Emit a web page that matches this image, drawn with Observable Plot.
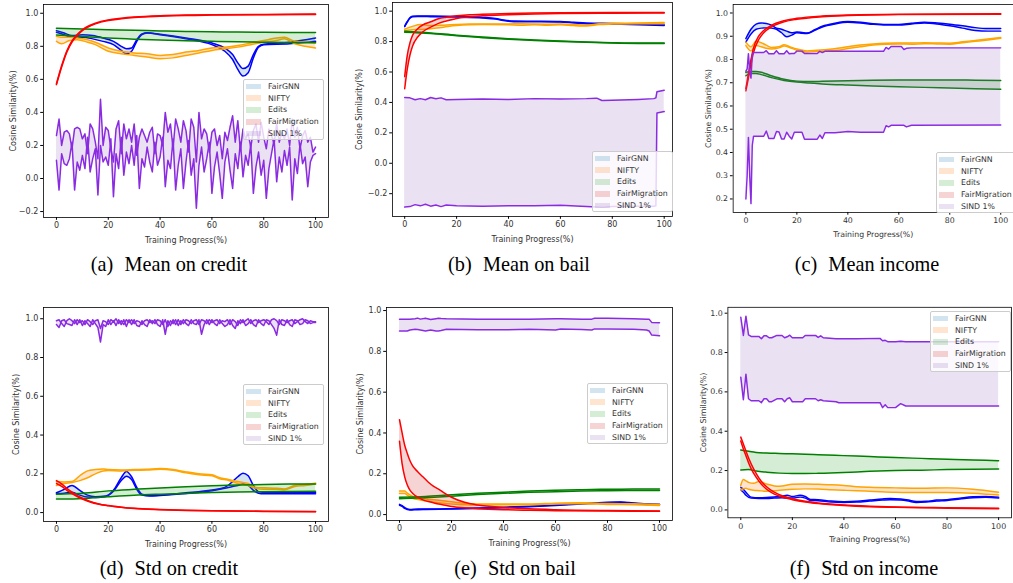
<!DOCTYPE html>
<html><head><meta charset="utf-8">
<script src="https://cdn.jsdelivr.net/npm/d3@7"></script>
<script src="https://cdn.jsdelivr.net/npm/@observablehq/plot@0.6"></script>
<style>
html,body{margin:0;padding:0;background:#fff;overflow:hidden}
#fig{position:relative;width:1013px;height:583px;overflow:hidden;background:#fff}
.panel{position:absolute}
.panel svg{overflow:visible}
.legend{position:absolute;width:81px;height:61px;box-sizing:border-box;background:rgba(255,255,255,0.8);border:1px solid #cccccc;border-radius:2px;padding-top:0.5px;font-family:"DejaVu Sans";font-size:7.8px;color:#333}
.legend .row{height:11.8px;display:flex;align-items:center}
.legend .patch{width:15px;height:5.5px;margin-left:2px}
.legend .lab{margin-left:7px;white-space:nowrap}
.caption{position:absolute;font-family:"Liberation Serif";font-size:20.3px;color:#000;white-space:nowrap;transform:translate(-50%,-50%)}
.caption .t{margin-left:0.55em}
</style></head>
<body><div id="fig"></div>
<script>
// ---------------- data ----------------
const methods = ["FairGNN", "NIFTY", "Edits", "FairMigration", "SIND 1%"];
const xTicks = [0, 20, 40, 60, 80, 100];
const yTicksWide = [-0.2, 0, 0.2, 0.4, 0.6, 0.8, 1.0];
const yTicksIncome = [0.2, 0.3, 0.4, 0.5, 0.6, 0.7, 0.8, 0.9, 1.0];
const yTicksStd = [0, 0.2, 0.4, 0.6, 0.8, 1.0];

// [progress, lower line, upper line]
const creditMean_FairGNN = [[0,0.885,0.895],[3,0.87,0.88],[6,0.855,0.865],[10,0.855,0.87],[14,0.845,0.865],[18,0.83,0.85],[22,0.81,0.83],[25,0.775,0.80],[27,0.755,0.785],[29,0.77,0.79],[31,0.83,0.84],[33,0.87,0.875],[35,0.88,0.882],[40,0.87,0.873],[50,0.845,0.85],[60,0.81,0.82],[65,0.77,0.79],[68,0.72,0.75],[70,0.66,0.70],[72,0.62,0.665],[74,0.64,0.68],[76,0.73,0.75],[78,0.795,0.80],[80,0.81,0.812],[90,0.815,0.825],[100,0.83,0.85]];
const creditMean_NIFTY = [[0,0.83,0.86],[2,0.815,0.855],[5,0.835,0.855],[8,0.84,0.85],[12,0.825,0.84],[15,0.81,0.825],[20,0.77,0.79],[25,0.755,0.77],[30,0.745,0.76],[35,0.735,0.755],[40,0.725,0.745],[45,0.73,0.75],[50,0.745,0.765],[55,0.76,0.775],[60,0.775,0.79],[65,0.785,0.795],[70,0.795,0.805],[75,0.81,0.82],[80,0.825,0.835],[85,0.835,0.85],[88,0.845,0.855],[92,0.815,0.83],[96,0.80,0.825],[100,0.79,0.82]];
const creditMean_Edits = [[0,0.868,0.91],[10,0.86,0.905],[20,0.85,0.90],[30,0.843,0.897],[40,0.838,0.893],[50,0.834,0.89],[60,0.83,0.888],[70,0.827,0.886],[80,0.825,0.885],[90,0.823,0.884],[100,0.822,0.883]];
const creditMean_FairMigration = [[0,0.568,0.573],[2,0.675,0.682],[4,0.765,0.772],[6,0.825,0.832],[8,0.865,0.871],[10,0.895,0.9],[12,0.915,0.92],[15,0.936,0.94],[20,0.956,0.96],[25,0.966,0.97],[30,0.974,0.977],[40,0.982,0.985],[50,0.987,0.989],[60,0.989,0.991],[80,0.991,0.993],[100,0.993,0.995]];
const steps = [0,1,2,3,4,5,6,7,8,9,10,11,12,13,14,15,16,17,18,19,20,21,22,23,24,25,26,27,28,29,30,31,32,33,34,35,36,37,38,39,40,41,42,43,44,45,46,47,48,49,50,51,52,53,54,55,56,57,58,59,60,61,62,63,64,65,66,67,68,69,70,71,72,73,74,75,76,77,78,79,80,81,82,83,84,85,86,87,88,89,90,91,92,93,94,95,96,97,98,99,100];
const creditMean_SIND_a = [0.26,0.36,0.20,0.28,0.29,0.27,0.18,0.30,0.31,0.30,0.24,0.27,0.15,0.33,0.30,0.22,0.12,0.48,0.20,0.31,0.29,0.18,0.10,0.30,0.35,0.15,0.33,0.24,0.30,0.22,0.33,0.14,0.25,0.30,0.26,0.22,0.28,0.31,0.15,0.27,0.26,0.20,0.40,0.28,0.33,0.18,0.36,0.30,0.22,0.35,0.29,0.16,0.36,0.31,0.10,0.40,0.24,0.30,0.27,0.16,0.28,0.30,0.20,0.26,0.12,0.28,0.23,0.31,0.38,0.22,0.35,0.17,0.30,0.24,0.27,0.19,0.29,0.33,0.22,0.34,0.25,0.18,0.30,0.26,0.21,0.33,0.22,0.28,0.24,0.30,0.20,0.36,0.25,0.31,0.18,0.26,0.29,0.22,0.25,0.16,0.19];
const creditMean_SIND_b = [0.11,-0.07,0.15,0.09,0.08,0.12,0.22,-0.07,0.10,0.05,0.14,0.06,0.25,0.04,0.12,0.18,-0.10,0.20,0.10,0.13,0.08,0.24,-0.11,0.15,0.06,0.25,0.02,0.16,0.09,0.20,0.08,0.26,-0.06,0.12,0.07,0.19,0.10,0.04,0.22,0.08,0.13,0.25,-0.05,0.11,0.06,0.24,-0.07,0.08,0.18,-0.06,0.10,0.23,0.02,0.12,-0.18,0.08,0.19,0.04,0.12,0.22,-0.09,0.07,0.16,0.03,-0.12,0.10,0.18,0.05,-0.06,0.15,0.06,0.22,0.01,0.14,0.08,0.21,-0.09,0.07,0.16,0.02,0.11,-0.12,0.06,0.15,0.24,-0.02,0.13,0.04,0.17,0.08,0.19,-0.13,0.12,0.03,0.21,0.09,0.13,-0.05,0.10,0.14,0.15];

const bailMean_FairGNN = [[0,0.898,0.902],[1,0.928,0.932],[2,0.953,0.957],[3,0.963,0.967],[5,0.965,0.969],[10,0.964,0.968],[20,0.961,0.965],[30,0.955,0.959],[35,0.948,0.952],[38,0.938,0.942],[42,0.931,0.935],[50,0.93,0.934],[60,0.928,0.932],[65,0.923,0.927],[70,0.918,0.922],[80,0.915,0.919],[90,0.911,0.915],[100,0.906,0.91]];
const bailMean_NIFTY = [[0,0.873,0.882],[3,0.878,0.90],[6,0.88,0.912],[10,0.885,0.905],[15,0.895,0.908],[20,0.905,0.912],[25,0.91,0.915],[30,0.912,0.916],[40,0.91,0.916],[45,0.907,0.917],[50,0.911,0.915],[55,0.908,0.914],[60,0.91,0.915],[65,0.905,0.912],[70,0.902,0.908],[75,0.912,0.917],[80,0.915,0.92],[90,0.918,0.922],[100,0.918,0.926]];
const bailMean_Edits = [[0,0.862,0.868],[10,0.853,0.857],[20,0.838,0.842],[30,0.826,0.83],[40,0.815,0.819],[50,0.807,0.811],[60,0.800,0.804],[70,0.795,0.798],[80,0.79,0.793],[90,0.788,0.79],[100,0.788,0.79]];
const bailMean_FairMigration = [[0,0.49,0.57],[1,0.62,0.71],[2,0.71,0.79],[3,0.77,0.84],[5,0.83,0.885],[7,0.865,0.91],[10,0.895,0.93],[13,0.92,0.95],[16,0.935,0.96],[20,0.952,0.97],[25,0.962,0.976],[30,0.97,0.98],[40,0.977,0.985],[50,0.982,0.988],[60,0.985,0.99],[80,0.987,0.991],[100,0.988,0.991]];
const bailMean_SIND = [[0,-0.288,0.432],[2,-0.285,0.43],[4,-0.272,0.418],[6,-0.28,0.425],[8,-0.27,0.418],[10,-0.282,0.432],[12,-0.275,0.424],[14,-0.285,0.43],[16,-0.275,0.418],[20,-0.28,0.42],[30,-0.282,0.422],[40,-0.28,0.42],[50,-0.28,0.425],[60,-0.276,0.422],[70,-0.285,0.425],[74,-0.288,0.428],[76,-0.29,0.413],[80,-0.285,0.415],[90,-0.283,0.42],[96,-0.283,0.425],[96.8,-0.28,0.43],[97.2,0.33,0.47],[100,0.34,0.48]];

const incomeMean_FairGNN = [[0,0.875,0.89],[2,0.91,0.93],[4,0.93,0.952],[6,0.935,0.957],[8,0.936,0.955],[10,0.935,0.948],[12,0.93,0.935],[14,0.915,0.93],[16,0.898,0.922],[18,0.905,0.915],[20,0.915,0.918],[22,0.913,0.916],[24,0.912,0.914],[27,0.925,0.928],[30,0.94,0.943],[35,0.953,0.956],[40,0.96,0.963],[45,0.957,0.96],[50,0.951,0.954],[55,0.948,0.951],[60,0.948,0.951],[65,0.953,0.956],[70,0.957,0.96],[75,0.953,0.957],[80,0.945,0.952],[85,0.935,0.945],[90,0.925,0.937],[95,0.922,0.933],[100,0.922,0.933]];
const incomeMean_NIFTY = [[0,0.86,0.875],[2,0.837,0.855],[4,0.86,0.878],[6,0.855,0.872],[8,0.848,0.862],[10,0.845,0.852],[13,0.85,0.855],[15,0.858,0.863],[18,0.848,0.852],[20,0.84,0.845],[24,0.832,0.837],[28,0.835,0.84],[32,0.838,0.843],[36,0.84,0.848],[40,0.847,0.855],[45,0.855,0.862],[50,0.862,0.867],[55,0.866,0.87],[60,0.867,0.871],[65,0.866,0.871],[70,0.868,0.872],[75,0.867,0.871],[80,0.866,0.87],[85,0.872,0.876],[90,0.878,0.882],[95,0.884,0.888],[100,0.891,0.895]];
const incomeMean_Edits = [[0,0.73,0.745],[2,0.74,0.748],[4,0.74,0.748],[6,0.735,0.745],[10,0.722,0.73],[15,0.71,0.715],[20,0.703,0.707],[25,0.699,0.705],[30,0.695,0.706],[40,0.69,0.709],[50,0.686,0.711],[60,0.683,0.712],[70,0.68,0.712],[80,0.677,0.712],[90,0.674,0.711],[100,0.672,0.71]];
const incomeMean_FairMigration = [[0,0.665,0.675],[1,0.72,0.74],[2,0.78,0.80],[3,0.83,0.85],[5,0.885,0.90],[7,0.915,0.925],[10,0.94,0.947],[15,0.962,0.967],[20,0.973,0.977],[30,0.984,0.987],[40,0.989,0.991],[60,0.993,0.995],[100,0.995,0.997]];
const incomeMean_SIND = [[0,0.2,0.75],[0.5,0.3,0.76],[1,0.465,0.825],[1.5,0.3,0.75],[2,0.18,0.72],[2.5,0.43,0.82],[3,0.47,0.83],[7,0.47,0.83],[8,0.492,0.838],[9,0.46,0.825],[11,0.46,0.825],[12,0.49,0.838],[13,0.488,0.825],[14,0.458,0.825],[15,0.458,0.825],[16,0.487,0.838],[17,0.47,0.825],[18,0.458,0.826],[19,0.487,0.826],[20,0.487,0.836],[22,0.487,0.836],[23,0.457,0.826],[24,0.457,0.826],[28,0.457,0.826],[29,0.475,0.835],[30,0.46,0.83],[31,0.485,0.835],[35,0.485,0.835],[40,0.49,0.835],[45,0.487,0.835],[54,0.487,0.835],[55,0.515,0.852],[56,0.51,0.845],[57,0.517,0.856],[61,0.517,0.856],[62,0.517,0.843],[63,0.51,0.848],[65,0.517,0.85],[100,0.518,0.85]];

const creditStd_FairGNN = [[0,0.098,0.102],[3,0.1,0.12],[6,0.105,0.14],[9,0.09,0.115],[12,0.08,0.09],[15,0.078,0.082],[19,0.083,0.085],[22,0.11,0.115],[25,0.165,0.18],[27,0.188,0.212],[29,0.17,0.185],[31,0.12,0.13],[33,0.09,0.095],[36,0.085,0.088],[40,0.088,0.09],[50,0.098,0.102],[60,0.112,0.117],[65,0.125,0.13],[68,0.135,0.16],[70,0.14,0.185],[72,0.148,0.203],[74,0.14,0.19],[76,0.115,0.14],[78,0.1,0.108],[80,0.097,0.104],[90,0.097,0.104],[100,0.097,0.104]];
const creditStd_NIFTY = [[0,0.14,0.16],[3,0.15,0.158],[6,0.155,0.16],[9,0.165,0.19],[12,0.18,0.215],[15,0.2,0.222],[18,0.215,0.225],[20,0.217,0.222],[25,0.215,0.22],[30,0.218,0.222],[35,0.22,0.224],[40,0.223,0.227],[45,0.218,0.222],[50,0.205,0.21],[55,0.195,0.2],[60,0.19,0.195],[63,0.175,0.18],[66,0.168,0.172],[70,0.15,0.16],[74,0.14,0.15],[77,0.125,0.13],[80,0.12,0.128],[85,0.12,0.125],[88,0.118,0.122],[92,0.135,0.14],[96,0.14,0.145],[100,0.148,0.152]];
const creditStd_Edits = [[0,0.07,0.095],[5,0.07,0.097],[10,0.073,0.10],[20,0.082,0.112],[30,0.09,0.12],[40,0.095,0.127],[50,0.099,0.133],[60,0.103,0.138],[70,0.106,0.142],[80,0.108,0.145],[90,0.109,0.147],[100,0.11,0.148]];
const creditStd_FairMigration = [[0,0.15,0.165],[2,0.135,0.148],[4,0.115,0.125],[6,0.098,0.105],[8,0.083,0.088],[10,0.07,0.074],[13,0.055,0.058],[16,0.044,0.046],[20,0.035,0.036],[25,0.027,0.028],[30,0.021,0.022],[40,0.015,0.016],[50,0.011,0.012],[60,0.009,0.01],[80,0.006,0.007],[100,0.004,0.005]];
const creditStd_SIND_a = [0.99,0.995,0.975,0.96,0.99,1.0,0.99,0.975,0.995,0.98,0.99,0.97,0.995,0.985,0.97,0.99,0.995,0.95,0.99,0.985,0.97,0.995,0.985,1.0,0.975,0.99,0.97,0.995,0.98,0.995,0.975,0.99,0.985,0.97,0.99,0.995,0.98,0.99,0.975,0.995,0.99,0.97,0.995,0.96,0.99,0.975,0.995,0.965,0.99,0.975,0.995,0.99,0.975,0.99,0.995,0.97,0.995,0.99,0.975,0.995,0.98,0.99,0.995,0.975,0.99,0.985,0.995,0.97,0.995,0.985,0.965,0.995,0.98,0.99,1.0,0.975,0.99,0.995,0.98,0.99,0.995,0.985,0.97,0.995,1.0,0.99,0.97,0.995,0.99,0.98,0.99,0.995,0.975,0.985,0.995,1.0,0.985,0.975,0.99,0.985,0.985];
const creditStd_SIND_b = [0.97,0.955,0.99,0.995,0.975,0.97,0.965,0.995,0.97,0.995,0.965,0.99,0.975,0.96,0.995,0.975,0.955,0.88,0.97,0.96,0.995,0.97,0.99,0.965,0.995,0.97,0.995,0.96,0.995,0.97,0.995,0.965,0.96,0.99,0.97,0.96,0.995,0.975,0.995,0.97,0.96,0.995,0.92,0.99,0.965,0.995,0.97,0.995,0.97,0.995,0.975,0.965,0.995,0.975,0.97,0.995,0.92,0.97,0.995,0.97,0.995,0.975,0.965,0.995,0.975,0.96,0.97,0.995,0.965,0.95,0.99,0.975,0.995,0.965,0.975,0.995,0.97,0.96,0.995,0.975,0.965,0.995,0.99,0.97,0.95,0.915,0.995,0.97,0.965,0.995,0.97,0.96,0.995,0.99,0.97,0.975,0.995,0.99,0.975,0.98,0.98];

const bailStd_FairGNN = [[0,0.046,0.05],[1,0.04,0.044],[2,0.03,0.034],[4,0.022,0.025],[7,0.024,0.027],[10,0.025,0.027],[20,0.027,0.029],[30,0.03,0.032],[40,0.034,0.036],[50,0.039,0.041],[60,0.045,0.047],[70,0.052,0.054],[80,0.058,0.06],[85,0.06,0.062],[90,0.055,0.057],[95,0.05,0.053],[100,0.048,0.051]];
const bailStd_NIFTY = [[0,0.103,0.115],[2,0.103,0.115],[3,0.095,0.105],[5,0.08,0.09],[8,0.072,0.08],[10,0.068,0.076],[15,0.058,0.07],[20,0.052,0.063],[25,0.048,0.055],[30,0.047,0.052],[40,0.048,0.052],[50,0.048,0.052],[60,0.052,0.056],[70,0.053,0.058],[80,0.05,0.054],[90,0.048,0.053],[100,0.045,0.05]];
const bailStd_Edits = [[0,0.078,0.085],[10,0.083,0.089],[20,0.09,0.097],[30,0.098,0.104],[40,0.104,0.11],[50,0.109,0.115],[60,0.112,0.119],[70,0.115,0.122],[80,0.117,0.124],[90,0.118,0.125],[100,0.118,0.126]];
const bailStd_FairMigration = [[0,0.36,0.465],[1,0.25,0.40],[2,0.185,0.34],[3,0.145,0.30],[4,0.12,0.265],[5,0.105,0.24],[7,0.085,0.21],[9,0.072,0.185],[11,0.064,0.16],[13,0.058,0.14],[15,0.052,0.125],[17,0.047,0.108],[20,0.04,0.085],[25,0.033,0.06],[30,0.029,0.047],[40,0.024,0.035],[50,0.021,0.028],[60,0.019,0.024],[80,0.017,0.02],[100,0.016,0.018]];
const bailStd_SIND = [[0,0.9,0.958],[3,0.9,0.958],[4,0.905,0.958],[6,0.908,0.96],[7,0.907,0.963],[8,0.905,0.958],[10,0.9,0.962],[12,0.905,0.956],[14,0.9,0.96],[15,0.9,0.962],[16,0.902,0.961],[18,0.908,0.96],[30,0.906,0.958],[40,0.906,0.958],[50,0.908,0.958],[60,0.905,0.96],[62,0.91,0.96],[70,0.907,0.958],[74,0.905,0.958],[75,0.91,0.962],[80,0.91,0.962],[90,0.908,0.96],[95,0.905,0.958],[96,0.9,0.958],[97,0.88,0.942],[100,0.876,0.94]];

const incomeStd_FairGNN = [[0,0.1,0.115],[1,0.09,0.105],[2,0.075,0.09],[4,0.06,0.065],[7,0.058,0.062],[10,0.058,0.063],[13,0.06,0.066],[16,0.062,0.07],[18,0.06,0.075],[20,0.06,0.068],[23,0.065,0.075],[25,0.06,0.068],[27,0.048,0.053],[30,0.047,0.052],[35,0.04,0.045],[40,0.038,0.042],[45,0.04,0.044],[50,0.045,0.05],[55,0.05,0.056],[58,0.052,0.058],[62,0.05,0.055],[65,0.045,0.05],[68,0.038,0.043],[72,0.04,0.044],[76,0.045,0.05],[80,0.048,0.052],[85,0.055,0.06],[90,0.062,0.067],[95,0.064,0.068],[100,0.06,0.065]];
const incomeStd_NIFTY = [[0,0.1,0.125],[1,0.108,0.155],[2,0.11,0.148],[3,0.105,0.14],[5,0.1,0.135],[7,0.098,0.145],[10,0.095,0.132],[13,0.097,0.122],[15,0.1,0.12],[20,0.105,0.13],[25,0.107,0.132],[30,0.106,0.13],[35,0.103,0.128],[40,0.1,0.124],[45,0.097,0.118],[50,0.095,0.115],[60,0.09,0.112],[70,0.088,0.11],[80,0.088,0.112],[90,0.085,0.105],[100,0.076,0.09]];
const incomeStd_Edits = [[0,0.203,0.305],[3,0.205,0.298],[6,0.198,0.292],[10,0.192,0.289],[15,0.187,0.287],[20,0.185,0.285],[25,0.185,0.283],[30,0.186,0.281],[40,0.19,0.276],[50,0.196,0.271],[60,0.2,0.266],[70,0.202,0.262],[80,0.205,0.258],[90,0.207,0.254],[100,0.208,0.25]];
const incomeStd_FairMigration = [[0,0.35,0.37],[1,0.31,0.335],[2,0.275,0.3],[3,0.24,0.265],[4,0.21,0.235],[6,0.165,0.185],[8,0.13,0.145],[10,0.105,0.118],[13,0.08,0.09],[16,0.065,0.072],[20,0.052,0.057],[25,0.04,0.044],[30,0.032,0.035],[40,0.022,0.025],[50,0.016,0.019],[60,0.013,0.015],[80,0.009,0.011],[100,0.006,0.008]];
const incomeStd_SIND = [[0,0.675,0.98],[1,0.56,0.887],[2,0.69,0.985],[3,0.565,0.89],[4,0.555,0.882],[7,0.555,0.882],[8,0.545,0.87],[9,0.565,0.885],[10,0.565,0.885],[11,0.55,0.875],[12,0.55,0.875],[14,0.565,0.887],[16,0.565,0.887],[17,0.55,0.875],[18,0.565,0.88],[19,0.57,0.888],[20,0.55,0.875],[24,0.55,0.875],[25,0.565,0.887],[29,0.565,0.887],[30,0.555,0.877],[31,0.56,0.885],[32,0.555,0.875],[37,0.55,0.87],[38,0.545,0.87],[45,0.545,0.87],[54,0.545,0.872],[55,0.52,0.86],[56,0.535,0.862],[57,0.52,0.855],[60,0.52,0.855],[62,0.54,0.857],[64,0.528,0.855],[100,0.528,0.855]];

// ---------------- styles / layout ----------------
const fillColors = ["#1f77b4", "#ff7f0e", "#2ca02c", "#d62728", "#9467bd"];
const lineColors = ["#0000ff", "#ffa500", "#008000", "#ff0000", "#8a2be2"];

const triples = arr => arr.map(([x, lo, hi]) => ({x, lo, hi}));
const paired = (a, b) => steps.map((x, i) => ({x, lo: a[i], hi: b[i]}));

const panels = [
  {tag: "(a)", title: "Mean on credit",
   series: [triples(creditMean_FairGNN), triples(creditMean_NIFTY), triples(creditMean_Edits), triples(creditMean_FairMigration), paired(creditMean_SIND_a, creditMean_SIND_b)],
   left: 0, top: 0, width: 338, height: 245, m: [4, 10, 28, 43],
   xd: [-5, 105], yd: [-0.236, 1.053], yt: yTicksWide, ylo: 32.7, leg: [243, 79], cap: [169, 264]},
  {tag: "(b)", title: "Mean on bail",
   series: [triples(bailMean_FairGNN), triples(bailMean_NIFTY), triples(bailMean_Edits), triples(bailMean_FairMigration), triples(bailMean_SIND)],
   left: 338, top: 0, width: 338, height: 245, m: [2, 4, 29, 54],
   xd: [-4.7, 103.2], yd: [-0.35, 1.057], yt: yTicksWide, ylo: 35.7, leg: [592, 151], cap: [519, 264]},
  {tag: "(c)", title: "Mean income",
   series: [triples(incomeMean_FairGNN), triples(incomeMean_NIFTY), triples(incomeMean_Edits), triples(incomeMean_FairMigration), triples(incomeMean_SIND)],
   left: 676, top: 0, width: 345, height: 245, m: [4, 0, 28, 58],
   xd: [-5, 105], yd: [0.142, 1.037], yt: yTicksIncome, ylo: 28, leg: [936, 152], cap: [867, 264]},
  {tag: "(d)", title: "Std on credit",
   series: [triples(creditStd_FairGNN), triples(creditStd_NIFTY), triples(creditStd_Edits), triples(creditStd_FairMigration), paired(creditStd_SIND_a, creditStd_SIND_b)],
   left: 0, top: 290, width: 338, height: 260, m: [17, 10, 29, 43],
   xd: [-5, 105], yd: [-0.046, 1.058], yt: yTicksStd, ylo: 30, leg: [243, 384], cap: [169, 568]},
  {tag: "(e)", title: "Std on bail",
   series: [triples(bailStd_FairGNN), triples(bailStd_NIFTY), triples(bailStd_Edits), triples(bailStd_FairMigration), triples(bailStd_SIND)],
   left: 338, top: 290, width: 338, height: 260, m: [17, 4, 30, 48],
   xd: [-5, 105], yd: [-0.029, 1.015], yt: yTicksStd, ylo: 29, leg: [587, 383], cap: [515, 568]},
  {tag: "(f)", title: "Std on income",
   series: [triples(incomeStd_FairGNN), triples(incomeStd_NIFTY), triples(incomeStd_Edits), triples(incomeStd_FairMigration), triples(incomeStd_SIND)],
   left: 676, top: 290, width: 341, height: 260, m: [17, 2, 30, 52],
   xd: [-5, 105], yd: [-0.04, 1.03], yt: yTicksStd, ylo: 27.5, leg: [930, 311], cap: [864, 568]}
];

const fig = document.getElementById("fig");
const fmt = d3.format(".1f");

for (const p of panels) {
  const marks = [];
  p.series.forEach((rows, i) => {
    const curve = (i === 4) ? "linear" : "monotone-x";
    marks.push(Plot.areaY(rows, {x: "x", y1: "lo", y2: "hi", fill: fillColors[i], fillOpacity: 0.2, curve}));
    marks.push(Plot.lineY(rows, {x: "x", y: "lo", stroke: lineColors[i], strokeWidth: 1.5, curve}));
    marks.push(Plot.lineY(rows, {x: "x", y: "hi", stroke: lineColors[i], strokeWidth: 1.5, curve}));
  });
  marks.push(Plot.axisX({ticks: xTicks, tickFormat: d3.format("d"), tickSize: 2.8, tickPadding: 2.4, stroke: "#000", fill: "#333",
    label: "Training Progress(%)", labelAnchor: "center", labelArrow: "none", labelOffset: 25}));
  marks.push(Plot.axisY({ticks: p.yt, tickFormat: fmt, tickSize: 2.8, tickPadding: 2.4, stroke: "#000", fill: "#333",
    label: "Cosine Similarity(%)", labelAnchor: "center", labelArrow: "none", labelOffset: p.ylo}));
  marks.push(Plot.frame({stroke: "#000", strokeWidth: 0.8}));

  const svg = Plot.plot({
    width: p.width, height: p.height,
    marginTop: p.m[0], marginRight: p.m[1], marginBottom: p.m[2], marginLeft: p.m[3],
    x: {domain: p.xd, label: null},
    y: {domain: p.yd, label: null},
    style: {fontFamily: "DejaVu Sans", fontSize: "8px", fontWeight: "normal", color: "#333", background: "transparent"},
    marks
  });
  const wrap = document.createElement("div");
  wrap.className = "panel";
  wrap.style.left = p.left + "px";
  wrap.style.top = p.top + "px";
  wrap.appendChild(svg);
  fig.appendChild(wrap);

  const leg = document.createElement("div");
  leg.className = "legend";
  leg.style.left = p.leg[0] + "px";
  leg.style.top = p.leg[1] + "px";
  methods.forEach((name, i) => {
    const row = document.createElement("div");
    row.className = "row";
    const patch = document.createElement("span");
    patch.className = "patch";
    const c = d3.rgb(fillColors[i]);
    patch.style.background = `rgba(${c.r},${c.g},${c.b},0.2)`;
    const lab = document.createElement("span");
    lab.className = "lab";
    lab.textContent = name;
    row.appendChild(patch); row.appendChild(lab);
    leg.appendChild(row);
  });
  fig.appendChild(leg);

  const cap = document.createElement("div");
  cap.className = "caption";
  cap.style.left = p.cap[0] + "px";
  cap.style.top = p.cap[1] + "px";
  const t1 = document.createElement("span"); t1.textContent = p.tag;
  const t2 = document.createElement("span"); t2.className = "t"; t2.textContent = p.title;
  cap.appendChild(t1); cap.appendChild(t2);
  fig.appendChild(cap);
}
</script>
</body></html>
